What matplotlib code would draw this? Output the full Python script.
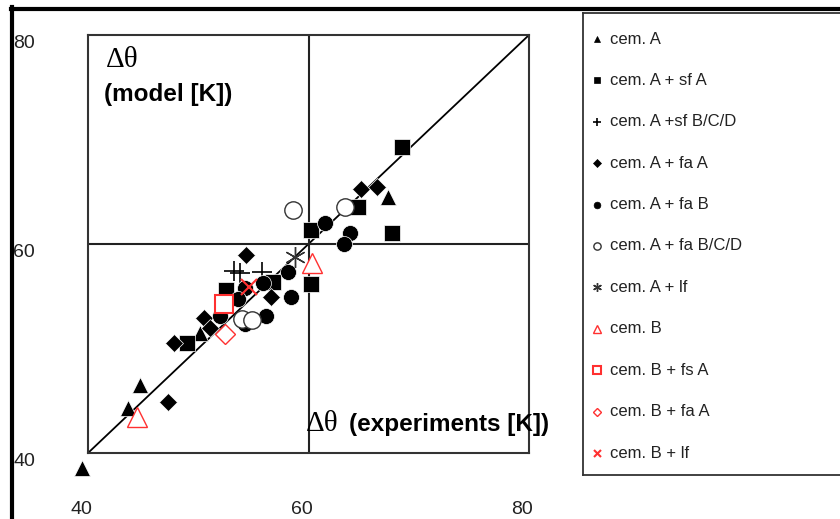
import matplotlib.pyplot as plt
from matplotlib.lines import Line2D

# measured vs. modelled temperature rise, one list pair per mix
cem_a_x = [39.5, 43.6, 44.7, 50.2, 67.2]
cem_a_y = [38.6, 44.3, 46.5, 51.5, 64.5]

sf_a_x = [68.5, 67.6, 64.5, 60.2, 60.2, 52.5, 56.8, 49.0]
sf_a_y = [69.3, 61.1, 63.5, 61.3, 56.2, 55.6, 56.4, 50.5]

sf_bcd_x = [53.2, 53.8, 55.8]
sf_bcd_y = [57.4, 57.2, 57.3]

fa_a_x = [64.8, 66.2, 54.3, 56.6, 50.5, 51.1, 47.8, 47.3]
fa_a_y = [65.3, 65.5, 58.9, 54.9, 52.9, 52.0, 50.5, 44.9]

fa_b_x = [61.5, 63.8, 63.2, 58.1, 58.4, 56.1, 54.2, 53.6, 52.0, 54.2, 55.9]
fa_b_y = [62.0, 61.1, 60.0, 57.3, 54.9, 53.1, 55.8, 54.7, 53.1, 52.3, 56.3]

fa_bcd_x = [58.6, 63.3, 54.0, 54.9]
fa_bcd_y = [63.3, 63.5, 52.8, 52.7]

lf_a_x = [58.8]
lf_a_y = [58.8]

cem_b_x = [44.4, 60.3]
cem_b_y = [43.4, 58.2]

fs_b_x = [52.3]
fs_b_y = [54.3]

fa_b2_x = [52.4]
fa_b2_y = [51.4]

lf_b_x = [54.6]
lf_b_y = [55.9]

ticks = [40, 60, 80]

W, H = 840, 519
RED = '#ff3030'


def fx(x):
    return x / W


def fy(y):
    return 1 - y / H


fig = plt.figure(figsize=(8.4, 5.19), dpi=100)
plt.rcParams['font.family'] = ['Liberation Sans', 'DejaVu Sans']

ax = fig.add_axes([fx(88), fy(453), fx(529) - fx(88), fy(35) - fy(453)])
ax.set_xlim(40, 80)
ax.set_ylim(40, 80)
ax.set_xticks([])
ax.set_yticks([])
for s in ax.spines.values():
    s.set_color('#333333')
    s.set_linewidth(1.5)

ax.plot([40, 80], [40, 80], color='black', lw=1.3, zorder=1)
ax.axvline(60, color='#222222', lw=1.5, zorder=1)
ax.axhline(60, color='#222222', lw=1.5, zorder=1)

series = [
    ('cem. A', cem_a_x, cem_a_y, dict(marker='^', ms=11, mfc='black', mec='white', mew=0.5)),
    ('cem. A + sf A', sf_a_x, sf_a_y, dict(marker='s', ms=11.5, mfc='black', mec='white', mew=0.5)),
    ('cem. A +sf B/C/D', sf_bcd_x, sf_bcd_y, dict(marker='+', ms=14, mec='black', mew=1.2)),
    ('cem. A + fa A', fa_a_x, fa_a_y, dict(marker='D', ms=9, mfc='black', mec='white', mew=0.5)),
    ('cem. A + fa B', fa_b_x, fa_b_y, dict(marker='o', ms=11.5, mfc='black', mec='white', mew=0.5)),
    ('cem. A + fa B/C/D', fa_bcd_x, fa_bcd_y, dict(marker='o', ms=12.5, mfc='white', mec='#333333', mew=1.0)),
    ('cem. A + lf', lf_a_x, lf_a_y, dict(marker=(6, 2, 0), ms=15, mec='#333333', mew=1.0)),
    ('cem. B', cem_b_x, cem_b_y, dict(marker='^', ms=14, mfc='white', mec=RED, mew=1.0)),
    ('cem. B + fs A', fs_b_x, fs_b_y, dict(marker='s', ms=12.5, mfc='white', mec=RED, mew=1.5)),
    ('cem. B + fa A', fa_b2_x, fa_b2_y, dict(marker='D', ms=10, mfc='white', mec=RED, mew=1.0)),
    ('cem. B + lf', lf_b_x, lf_b_y, dict(marker='x', ms=12, mec=RED, mew=1.5)),
]

for i, (label, xs, ys, style) in enumerate(series):
    ax.plot(xs, ys, ls='none', clip_on=False, zorder=2 + i, **style)

# axis titles inside the plot area
fig.text(fx(106), fy(60), '\u0394\u03b8', family='Liberation Serif', fontsize=21, va='center', ha='left')
fig.text(fx(104), fy(95), '(model [K])', fontsize=17.5, fontweight='bold', va='center', ha='left')
fig.text(fx(306), fy(424), '\u0394\u03b8', family='Liberation Serif', fontsize=21, va='center', ha='left')
fig.text(fx(349), fy(424), '(experiments [K])', fontsize=17.5, fontweight='bold', va='center', ha='left')

# tick labels, set slightly off their gridline positions
for v in ticks:
    ax.annotate(str(v), xy=(v, 40), xytext=(-7, -57), textcoords='offset pixels',
                ha='center', va='center', fontsize=14, color='#222222', annotation_clip=False)
    ax.annotate(str(v), xy=(fx(13), v), xycoords=('figure fraction', 'data'), xytext=(0, -9),
                textcoords='offset pixels', ha='left', va='center', fontsize=14, color='#222222',
                annotation_clip=False)

# legend panel, runs off the right edge
lax = fig.add_axes([fx(583), fy(475), fx(300), fy(13) - fy(475)])
lax.set_xlim(583, 883)
lax.set_ylim(475, 13)
lax.set_xticks([])
lax.set_yticks([])
lax.patch.set_alpha(0)
lax.spines['right'].set_visible(False)
for s in ['left', 'top', 'bottom']:
    lax.spines[s].set_color('#333333')
    lax.spines[s].set_linewidth(1.3)

for i, (label, xs, ys, style) in enumerate(series):
    row = 39 + 41.4 * i
    small = dict(style)
    small['ms'] = style['ms'] * 0.42
    if small.get('mec') == 'white':
        small['mec'] = 'black'
    lax.plot([597], [row], ls='none', **small)
    lax.text(610, row, label, fontsize=12, va='center', ha='left', color='#222222')

# outer frame
fig.add_artist(Line2D([fx(12), fx(12)], [fy(7), 0], transform=fig.transFigure, color='black', lw=3))
fig.add_artist(Line2D([fx(11), 1], [fy(9), fy(9)], transform=fig.transFigure, color='black', lw=3))

plt.savefig('out.png', dpi=100)
